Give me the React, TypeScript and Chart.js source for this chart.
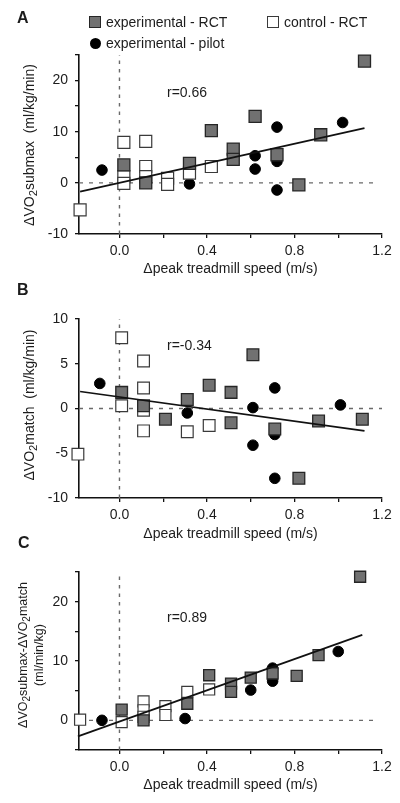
import React, { useEffect, useRef } from 'react';
import { Chart, registerables } from 'chart.js';

Chart.register(...registerables);

const FONT = "'Liberation Sans', Arial, Helvetica, sans-serif";
const TEXT = '#1c1c1c';

// ---- shared axis data ----
const X_MIN = -0.185;
const X_MAX = 1.2;
const xTickValues = [0, 0.2, 0.4, 0.6, 0.8, 1.0, 1.2];
const xTickLabels = ['0.0', '', '0.4', '', '0.8', '', '1.2'];
const xAxisTitle = 'Δpeak treadmill speed (m/s)';
const legendLabels = ['experimental - RCT', 'control - RCT', 'experimental - pilot'];

// ---- Panel A ----
const aYMin = -10;
const aYMax = 25;
const aYTicks = [-10, -5, 0, 5, 10, 15, 20, 25];
const aYLabels = ['-10', '', '0', '', '10', '', '20', ''];
const aExpRctX = [0.02, 0.12, 0.32, 0.42, 0.52, 0.52, 0.62, 0.72, 0.82, 0.92, 1.12];
const aExpRctY = [3.5, 0.0, 3.8, 10.2, 6.6, 4.6, 13.0, 5.5, -0.4, 9.4, 23.8];
const aCtrlX = [-0.18, 0.02, 0.02, 0.02, 0.12, 0.12, 0.12, 0.22, 0.22, 0.32, 0.42];
const aCtrlY = [-5.3, 7.9, 1.2, -0.1, 8.1, 3.2, 1.2, 0.9, -0.3, 1.9, 3.2];
const aPilotX = [-0.08, 0.32, 0.62, 0.62, 0.72, 0.72, 0.72, 1.02];
const aPilotY = [2.5, -0.2, 5.3, 2.7, 10.9, 4.2, -1.4, 11.8];
const aFitX = [-0.18, 1.12];
const aFitY = [-1.7, 10.7];
const aZeroLineX = [X_MIN, 1.16];
const aR = 'r=0.66';

// ---- Panel B ----
const bYMin = -10;
const bYMax = 10;
const bYTicks = [-10, -5, 0, 5, 10];
const bYLabels = ['-10', '-5', '0', '5', '10'];
const bExpRctX = [0.01, 0.11, 0.21, 0.31, 0.41, 0.51, 0.51, 0.61, 0.71, 0.82, 0.91, 1.11];
const bExpRctY = [1.8, 0.3, -1.2, 1.0, 2.6, 1.8, -1.6, 6.0, -2.3, -7.8, -1.4, -1.2];
const bCtrlX = [-0.19, 0.01, 0.01, 0.11, 0.11, 0.11, 0.11, 0.31, 0.41];
const bCtrlY = [-5.1, 7.9, 0.3, 5.3, 2.3, -0.2, -2.5, -2.6, -1.9];
const bPilotX = [-0.09, 0.31, 0.61, 0.61, 0.71, 0.71, 0.71, 1.01];
const bPilotY = [2.8, -0.5, 0.1, -4.1, 2.3, -2.9, -7.8, 0.4];
const bFitX = [-0.18, 1.12];
const bFitY = [1.9, -2.5];
const bZeroLineX = [X_MIN, 1.2];
const bR = 'r=-0.34';

// ---- Panel C ----
const cYMin = -5;
const cYMax = 25;
const cYTicks = [-5, 0, 5, 10, 15, 20, 25];
const cYLabels = ['', '0', '', '10', '', '20', ''];
const cExpRctX = [0.01, 0.11, 0.31, 0.41, 0.51, 0.51, 0.6, 0.7, 0.81, 0.91, 1.1];
const cExpRctY = [1.8, 0.0, 2.8, 7.6, 6.2, 4.8, 7.2, 7.9, 7.5, 11.0, 24.2];
const cCtrlX = [-0.18, 0.01, 0.11, 0.11, 0.11, 0.21, 0.21, 0.31, 0.41];
const cCtrlY = [0.1, -0.3, 3.2, 1.7, 0.6, 2.4, 0.9, 4.8, 5.2];
const cPilotX = [-0.08, 0.3, 0.6, 0.7, 0.7, 1.0];
const cPilotY = [0.0, 0.3, 5.1, 8.8, 6.6, 11.6];
const cFitX = [-0.19, 1.11];
const cFitY = [-2.7, 14.4];
const cZeroLineX = [X_MIN, 1.17];
const cR = 'r=0.89';

type Series = { x: number[]; y: number[] };

const toPts = (s: Series) => s.x.map((x, i) => ({ x, y: s.y[i] }));

interface PanelProps {
  top: number;
  height: number;
  plotTop: number;
  plotBottom: number;
  yMin: number;
  yMax: number;
  yTicks: number[];
  yLabels: string[];
  expRct: Series;
  ctrl: Series;
  pilot: Series;
  fit: Series;
  zeroX: number[];
  squareRadius: number;
  titlePadBottom: number;
}

function Panel(p: PanelProps) {
  const ref = useRef<HTMLCanvasElement>(null);
  useEffect(() => {
    const canvas = ref.current;
    if (!canvas) return;
    const lookup = (vals: number[], labels: string[], v: number) => {
      const i = vals.findIndex((t) => Math.abs(t - v) < 1e-6);
      return i >= 0 ? labels[i] : '';
    };
    const chart = new Chart(canvas, {
      type: 'scatter',
      data: {
        datasets: [
          {
            label: 'zero-h',
            data: toPts({ x: p.zeroX, y: [0, 0] }),
            showLine: true,
            borderColor: '#6a6a6a',
            borderWidth: 1.4,
            borderDash: [4, 6],
            pointRadius: 0,
            order: 10,
            clip: false,
          } as any,
          {
            label: 'zero-v',
            data: toPts({ x: [0, 0], y: [p.yMin, p.yMax] }),
            showLine: true,
            borderColor: '#6a6a6a',
            borderWidth: 1.4,
            borderDash: [3.5, 5],
            pointRadius: 0,
            order: 10,
            clip: false,
          } as any,
          {
            label: 'experimental - pilot',
            data: toPts(p.pilot),
            pointStyle: 'circle',
            pointRadius: 5.3,
            backgroundColor: '#000000',
            borderColor: '#000000',
            borderWidth: 1,
            order: 4,
            clip: false,
          } as any,
          {
            label: 'control - RCT',
            data: toPts(p.ctrl),
            pointStyle: 'rect',
            pointRadius: p.squareRadius,
            backgroundColor: '#ffffff',
            borderColor: '#3a3a3a',
            borderWidth: 1.2,
            order: 3,
            clip: false,
          } as any,
          {
            label: 'experimental - RCT',
            data: toPts(p.expRct),
            pointStyle: 'rect',
            pointRadius: p.squareRadius,
            backgroundColor: '#717171',
            borderColor: '#262626',
            borderWidth: 1.3,
            order: 2,
            clip: false,
          } as any,
          {
            label: 'fit',
            data: toPts(p.fit),
            showLine: true,
            borderColor: '#111111',
            borderWidth: 1.7,
            pointRadius: 0,
            order: 1,
            clip: false,
          } as any,
        ],
      },
      options: {
        animation: false,
        responsive: false,
        maintainAspectRatio: false,
        events: [],
        layout: {
          padding: { left: 0, right: 18, top: p.plotTop - p.top, bottom: 0 },
        },
        plugins: {
          legend: { display: false },
          tooltip: { enabled: false },
        },
        scales: {
          x: {
            type: 'linear',
            min: X_MIN,
            max: X_MAX,
            afterBuildTicks: (s: any) => {
              s.ticks = xTickValues.map((v) => ({ value: v }));
            },
            afterFit: (s: any) => {
              s.height = p.height - (p.plotBottom - p.top);
            },
            ticks: {
              autoSkip: false,
              maxRotation: 0,
              padding: 5,
              color: TEXT,
              font: { family: FONT, size: 14 },
              callback: (v: any) => lookup(xTickValues, xTickLabels, Number(v)),
            },
            grid: {
              drawOnChartArea: false,
              drawTicks: true,
              tickLength: 4,
              color: '#111',
              lineWidth: 1.3,
            },
            border: { display: true, color: '#111', width: 1.6 },
            title: {
              display: true,
              text: xAxisTitle,
              color: TEXT,
              font: { family: FONT, size: 14 },
              padding: { top: 0, bottom: p.titlePadBottom },
            },
          },
          y: {
            type: 'linear',
            min: p.yMin,
            max: p.yMax,
            afterBuildTicks: (s: any) => {
              s.ticks = p.yTicks.map((v) => ({ value: v }));
            },
            afterFit: (s: any) => {
              s.width = 79;
            },
            ticks: {
              autoSkip: false,
              padding: 7,
              color: TEXT,
              font: { family: FONT, size: 14 },
              callback: (v: any) => lookup(p.yTicks, p.yLabels, Number(v)),
            },
            grid: {
              drawOnChartArea: false,
              drawTicks: true,
              tickLength: 4,
              color: '#111',
              lineWidth: 1.3,
            },
            border: { display: true, color: '#111', width: 1.6 },
          },
        },
      } as any,
    });
    return () => chart.destroy();
  }, []);
  return (
    <canvas
      ref={ref}
      width={400}
      height={p.height}
      style={{ position: 'absolute', left: 0, top: p.top, width: 400, height: p.height }}
    />
  );
}

const txt = (extra: React.CSSProperties): React.CSSProperties => ({
  position: 'absolute',
  fontFamily: FONT,
  color: TEXT,
  whiteSpace: 'nowrap',
  lineHeight: '16px',
  ...extra,
});

function YTitle({ cx, cy, size, children }: { cx: number; cy: number; size: number; children: React.ReactNode }) {
  return (
    <div
      style={txt({
        left: cx,
        top: cy,
        fontSize: size,
        textAlign: 'center',
        transform: 'translate(-50%, -50%) rotate(-90deg)',
      })}
    >
      {children}
    </div>
  );
}

const Sub = ({ children }: { children: React.ReactNode }) => (
  <sub style={{ fontSize: '0.8em', verticalAlign: '-0.3em', lineHeight: 0 }}>{children}</sub>
);

export default function App() {
  return (
    <div style={{ position: 'absolute', left: 0, top: 0, width: 400, height: 803, background: '#fff', overflow: 'hidden' }}>
      <Panel
        top={0}
        height={280}
        plotTop={55}
        plotBottom={234}
        yMin={aYMin}
        yMax={aYMax}
        yTicks={aYTicks}
        yLabels={aYLabels}
        expRct={{ x: aExpRctX, y: aExpRctY }}
        ctrl={{ x: aCtrlX, y: aCtrlY }}
        pilot={{ x: aPilotX, y: aPilotY }}
        fit={{ x: aFitX, y: aFitY }}
        zeroX={aZeroLineX}
        squareRadius={8.5}
        titlePadBottom={2}
      />
      <Panel
        top={280}
        height={265}
        plotTop={319}
        plotBottom={498}
        yMin={bYMin}
        yMax={bYMax}
        yTicks={bYTicks}
        yLabels={bYLabels}
        expRct={{ x: bExpRctX, y: bExpRctY }}
        ctrl={{ x: bCtrlX, y: bCtrlY }}
        pilot={{ x: bPilotX, y: bPilotY }}
        fit={{ x: bFitX, y: bFitY }}
        zeroX={bZeroLineX}
        squareRadius={8.3}
        titlePadBottom={2}
      />
      <Panel
        top={545}
        height={258}
        plotTop={572}
        plotBottom={750}
        yMin={cYMin}
        yMax={cYMax}
        yTicks={cYTicks}
        yLabels={cYLabels}
        expRct={{ x: cExpRctX, y: cExpRctY }}
        ctrl={{ x: cCtrlX, y: cCtrlY }}
        pilot={{ x: cPilotX, y: cPilotY }}
        fit={{ x: cFitX, y: cFitY }}
        zeroX={cZeroLineX}
        squareRadius={7.8}
        titlePadBottom={9}
      />

      {/* panel letters */}
      <div style={txt({ left: 17, top: 10, fontSize: 16, fontWeight: 'bold' })}>A</div>
      <div style={txt({ left: 17, top: 282, fontSize: 16, fontWeight: 'bold' })}>B</div>
      <div style={txt({ left: 18, top: 535, fontSize: 16, fontWeight: 'bold' })}>C</div>

      {/* legend */}
      <div style={{ position: 'absolute', left: 89, top: 16, width: 10, height: 10, background: '#717171', border: '1px solid #262626' }} />
      <div style={txt({ left: 106, top: 13.5, fontSize: 14 })}>{legendLabels[0]}</div>
      <div style={{ position: 'absolute', left: 267, top: 16, width: 10, height: 10, background: '#fff', border: '1px solid #3a3a3a' }} />
      <div style={txt({ left: 284, top: 13.5, fontSize: 14 })}>{legendLabels[1]}</div>
      <div style={{ position: 'absolute', left: 89.5, top: 37.5, width: 11, height: 11, borderRadius: '50%', background: '#000' }} />
      <div style={txt({ left: 106, top: 34.5, fontSize: 14 })}>{legendLabels[2]}</div>

      {/* correlation labels */}
      <div style={txt({ left: 167, top: 84, fontSize: 14 })}>{aR}</div>
      <div style={txt({ left: 167, top: 337, fontSize: 14 })}>{bR}</div>
      <div style={txt({ left: 167, top: 609, fontSize: 14 })}>{cR}</div>

      {/* y axis titles */}
      <YTitle cx={29} cy={145} size={14}>
        ΔVO<Sub>2</Sub>submax{'\u00a0\u00a0'}(ml/kg/min)
      </YTitle>
      <YTitle cx={29} cy={405} size={14}>
        ΔVO<Sub>2</Sub>match{'\u00a0\u00a0'}(ml/kg/min)
      </YTitle>
      <YTitle cx={31} cy={655} size={12.5}>
        <div>
          ΔVO<Sub>2</Sub>submax-ΔVO<Sub>2</Sub>match
        </div>
        <div>(ml/min/kg)</div>
      </YTitle>
    </div>
  );
}
